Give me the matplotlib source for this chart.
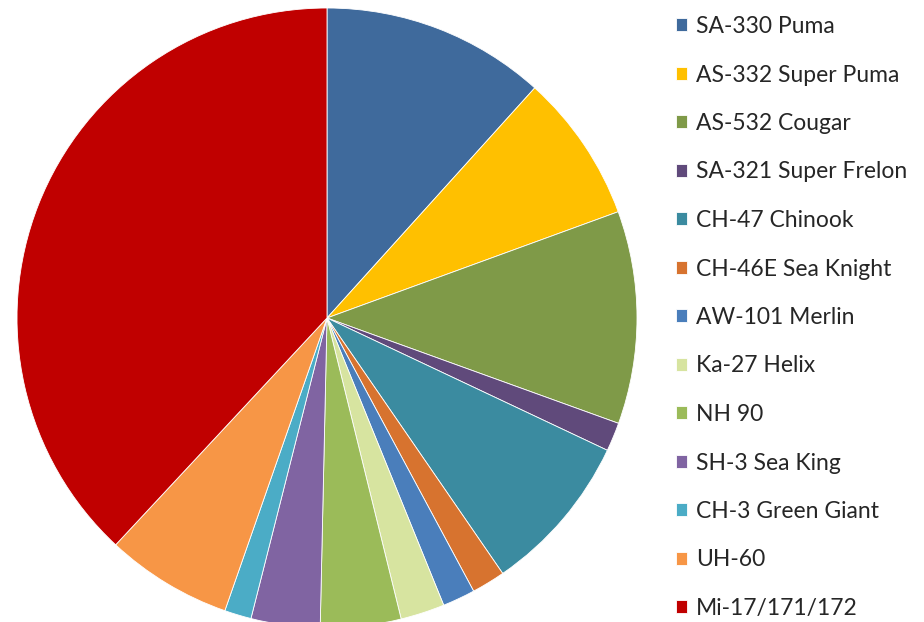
import matplotlib
matplotlib.use("Agg")
import matplotlib.pyplot as plt

plt.rcParams['font.family'] = ['Lato', 'DejaVu Sans']

# helicopter types and their share
labels = ['SA-330 Puma', 'AS-332 Super Puma', 'AS-532 Cougar', 'SA-321 Super Frelon',
          'CH-47 Chinook', 'CH-46E Sea Knight', 'AW-101 Merlin', 'Ka-27 Helix',
          'NH 90', 'SH-3 Sea King', 'CH-3 Green Giant', 'UH-60', 'Mi-17/171/172']
values = [11.7, 7.75, 11.1, 1.5, 8.4, 1.75, 1.7, 2.3, 4.2, 3.6, 1.4, 6.6, 38.1]
colors = ['#3F6A9C', '#FFC000', '#7F9A48', '#604A7B', '#3B8BA0', '#D7732F', '#4A7EBB',
          '#D7E4A0', '#9BBB59', '#8064A2', '#4BACC6', '#F79646', '#C00000']

fig = plt.figure(figsize=(9.24, 6.22), dpi=100)
ax = fig.add_axes([17/924, -6/622, 620/924, 620/622])

wedges, _ = ax.pie(values, colors=colors, startangle=90, counterclock=False,
                   radius=1, wedgeprops=dict(edgecolor='white', linewidth=0.6))
ax.set_xlim(-1, 1)
ax.set_ylim(-1, 1)
ax.set_aspect('equal')
ax.axis('off')

fig.legend(wedges, labels, loc='upper left', bbox_to_anchor=(676/924, 1 - 16/622),
           frameon=False, fontsize=16.5, handlelength=0.48, handleheight=0.48,
           handletextpad=0.4, labelspacing=1.2, borderaxespad=0, borderpad=0,
           labelcolor='#262626')

fig.savefig('out.png', dpi=100)
